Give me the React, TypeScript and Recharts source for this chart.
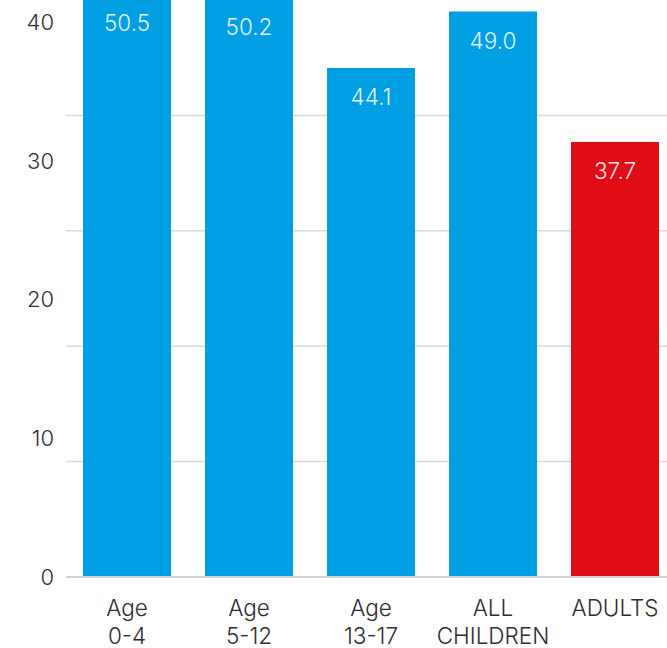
import { BarChart, Bar, XAxis, YAxis, CartesianGrid, Cell, LabelList } from "recharts";

// Average daily screen time by age group (children vs. adults)
const categories = ["Age 0-4", "Age 5-12", "Age 13-17", "ALL CHILDREN", "ADULTS"];
const values = [50.5, 50.2, 44.1, 49.0, 37.7];
const yTickLabels = [0, 10, 20, 30, 40];
const gridValues = [10, 20, 30, 40];
const highlight = "ADULTS";

const data = categories.map((name, i) => ({ name, value: values[i] }));

const BLUE = "#009fe3";
const RED = "#e00d17";
const TEXT = "#2e2e2e";

// splits "Age 0-4" into "Age" / "0-4", "ADULTS" stays on one line
function CategoryTick(props: any) {
  const { x, y, payload } = props;
  const label: string = payload.value;
  const idx = label.indexOf(" ");
  const lines = idx < 0 ? [label] : [label.slice(0, idx), label.slice(idx + 1)];
  return (
    <text x={x} y={y} textAnchor="middle" fontSize={22.5} fill={TEXT}>
      {lines.map((line, i) => (
        <tspan key={i} x={x} dy={i === 0 ? 31 : 28}>
          {line}
        </tspan>
      ))}
    </text>
  );
}

export default function App() {
  return (
    <div
      style={{
        position: "absolute",
        left: 0,
        top: 0,
        width: 667,
        height: 648,
        overflow: "hidden",
        background: "#fff",
        fontFamily: "Inter, Roboto, 'Liberation Sans', Arial, sans-serif",
        fontWeight: 300,
      }}
    >
      <BarChart width={680} height={648} data={data} margin={{ top: 0, right: 4, bottom: 0, left: 0 }}>
        <CartesianGrid vertical={false} horizontalValues={gridValues} stroke="#dadada" strokeWidth={1.5} />
        <XAxis
          dataKey="name"
          height={71}
          interval={0}
          axisLine={{ stroke: "#d4d4d4", strokeWidth: 2 }}
          tickLine={false}
          tick={<CategoryTick />}
        />
        <YAxis
          yAxisId="labels"
          domain={[0, 41.6]}
          allowDataOverflow
          ticks={yTickLabels}
          width={66}
          axisLine={false}
          tickLine={false}
          tickSize={0}
          tickMargin={12}
          tick={{ fontSize: 22, fill: TEXT }}
        />
        <YAxis hide width={0} domain={[0, 50]} allowDataOverflow ticks={gridValues} />
        <Bar dataKey="value" barSize={88} isAnimationActive={false}>
          {data.map((d) => (
            <Cell key={d.name} fill={d.name === highlight ? RED : BLUE} />
          ))}
          <LabelList
            dataKey="value"
            position="insideTop"
            offset={21}
            formatter={(v: any) => Number(v).toFixed(1)}
            fill="#fff"
            fillOpacity={0.88}
            fontSize={22.5}
          />
        </Bar>
      </BarChart>
    </div>
  );
}
